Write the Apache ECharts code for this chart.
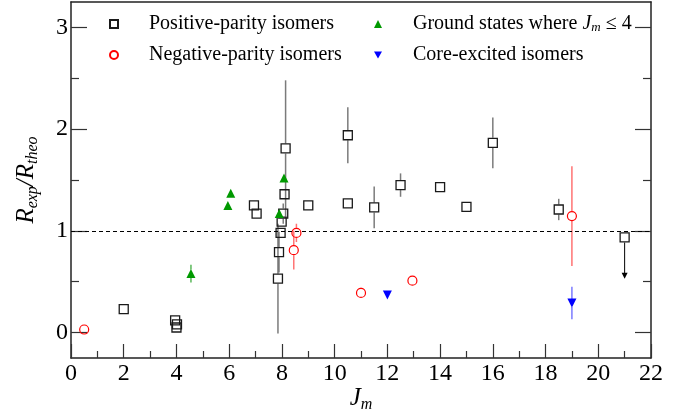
<!DOCTYPE html>
<html><head><meta charset="utf-8">
<script src="https://cdn.jsdelivr.net/npm/echarts@6/dist/echarts.min.js"></script>
<style>html,body{margin:0;padding:0;background:#fff}#c{width:692px;height:419px}</style>
</head><body><div id="c"></div>
<script>
// tick values
const xMajorTicks = [0,2,4,6,8,10,12,14,16,18,20,22];
const xMinorTicks = [1,3,5,7,9,11,13,15,17,19,21];
const yMajorTicks = [0,1,2,3];
const yMinorTicks = [0.5,1.5,2.5];

// [J_m, R_exp/R_theo, error]
const positive = [
  [2.0,0.23,0],[3.95,0.12,0],[4.02,0.08,0],[4.0,0.05,0],
  [6.94,1.25,0],[7.04,1.17,0],[7.85,0.53,0.54],[7.89,0.79,0.2],[7.95,0.98,0],
  [7.99,1.09,0],[8.05,1.17,0.1],[8.1,1.36,0],[8.14,1.81,0.67],
  [9.0,1.25,0],[10.5,1.94,0.275],[10.5,1.27,0],[11.5,1.23,0.205],[12.5,1.45,0.115],
  [14.0,1.43,0],[15.0,1.235,0],[16.0,1.865,0.25],[18.5,1.21,0.105]
];
// [J_m, value, arrow tip] upper limit
const positiveLimit = [[21.0,0.935,0.53]];
const negative = [[0.5,0.03,0],[8.45,0.81,0.19],[8.55,0.98,0.09],[11.0,0.39,0.05],[12.95,0.51,0.03],[19.0,1.145,0.49]];
const ground = [[4.55,0.58,0.087],[5.95,1.25,0],[6.06,1.37,0],[7.9,1.17,0],[8.08,1.52,0]];
const core = [[12.0,0.37,0],[19.0,0.29,0.16]];

const names = ['Positive-parity isomers','Negative-parity isomers','Ground states where J ≤ 4','Core-excited isomers'];

const FONT = 'Liberation Serif';

function errSeries(id, data, color, gap) {
  return {
    type: 'custom', name: id, silent: true, z: 1,
    xAxisIndex: 0, yAxisIndex: 0,
    data: data.filter(d => d[2] > 0),
    encode: {x: 0, y: 1},
    renderItem: function (params, api) {
      const x = api.value(0), y = api.value(1), e = api.value(2);
      const c = api.coord([x, y]);
      const t = api.coord([x, y + e]);
      const b = api.coord([x, y - e]);
      const ch = [];
      const st = {stroke: color, lineWidth: 1.5};
      if (t[1] < c[1] - gap) ch.push({type: 'line', shape: {x1: c[0], y1: t[1], x2: c[0], y2: c[1] - gap}, style: st});
      if (b[1] > c[1] + gap) ch.push({type: 'line', shape: {x1: c[0], y1: c[1] + gap, x2: c[0], y2: b[1]}, style: st});
      return {type: 'group', children: ch};
    }
  };
}

const arrowSeries = {
  type: 'custom', name: 'limit', silent: true, z: 1,
  data: positiveLimit, encode: {x: 0, y: 1},
  renderItem: function (params, api) {
    const x = api.value(0), y = api.value(1), tip = api.value(2);
    const c = api.coord([x, y]);
    const p = api.coord([x, tip]);
    return {type: 'group', children: [
      {type: 'line', shape: {x1: c[0], y1: c[1] + 5, x2: p[0], y2: p[1] - 4}, style: {stroke: '#000', lineWidth: 1}},
      {type: 'polygon', shape: {points: [[p[0] - 3, p[1] - 6], [p[0] + 3, p[1] - 6], [p[0], p[1]]]}, style: {fill: '#000'}}
    ]};
  }
};

function tickAxis(kind, pos, values, len) {
  const a = {
    type: 'value', position: pos,
    axisLine: {show: false, onZero: false},
    axisTick: {show: true, inside: true, length: len, customValues: values, lineStyle: {color: '#333', width: 1.2}},
    axisLabel: {show: false}, splitLine: {show: false}
  };
  if (kind === 'x') { a.min = 0; a.max = 22; } else { a.min = -0.25; a.max = 3.25; }
  return a;
}
function lineAxis(kind, pos) {
  const a = {
    type: 'value', position: pos,
    axisLine: {show: true, onZero: false, lineStyle: {color: '#222', width: 1.5}},
    axisTick: {show: false}, axisLabel: {show: false}, splitLine: {show: false}
  };
  if (kind === 'x') { a.min = 0; a.max = 22; } else { a.min = -0.25; a.max = 3.25; }
  return a;
}

const subRich = {
  i: {fontFamily: FONT, fontSize: 25, fontStyle: 'italic', color: '#000', lineHeight: 30, verticalAlign: 'middle'},
  s: {fontFamily: FONT, fontSize: 16, fontStyle: 'italic', color: '#000', lineHeight: 16, verticalAlign: 'bottom'}
};

const option = {
  animation: false,
  backgroundColor: '#fff',
  grid: {left: 71, right: 41, top: 2, bottom: 61, outerBoundsMode: 'none', containLabel: false},
  legend: [
    {
      data: [names[0], names[1]], orient: 'vertical', left: 109, top: 14, padding: 0,
      itemWidth: 8, itemHeight: 8, itemGap: 11, selectedMode: false,
      textStyle: {fontFamily: FONT, fontSize: 20, color: '#000', lineHeight: 20, padding: [0, 0, 0, 26]}
    },
    {
      data: [names[2], names[3]], orient: 'vertical', left: 374, top: 14, padding: 0,
      itemWidth: 8, itemHeight: 8, itemGap: 11, selectedMode: false,
      formatter: function (n) {
        if (n === names[2]) return '{t|Ground states where }{i|J}{s|m}{t| ≤ 4}';
        return '{t|' + n + '}';
      },
      textStyle: {fontFamily: FONT, fontSize: 20, color: '#000', lineHeight: 20, padding: [0, 0, 0, 26],
        rich: {
          t: {fontFamily: FONT, fontSize: 20, color: '#000', lineHeight: 20, verticalAlign: 'middle'},
          i: {fontFamily: FONT, fontSize: 20, fontStyle: 'italic', color: '#000', lineHeight: 20, verticalAlign: 'middle'},
          s: {fontFamily: FONT, fontSize: 13, fontStyle: 'italic', color: '#000', lineHeight: 12, verticalAlign: 'bottom'}
        }
      }
    }
  ],
  xAxis: [
    {
      type: 'value', min: 0, max: 22, position: 'bottom',
      name: '{i|J}{s|m}', nameLocation: 'middle', nameGap: 25, nameMoveOverlap: false,
      nameTextStyle: {rich: subRich},
      axisLine: {show: true, onZero: false, lineStyle: {color: '#222', width: 1.5}},
      axisTick: {show: false},
      axisLabel: {show: true, customValues: xMajorTicks, fontFamily: FONT, fontSize: 24, color: '#000', margin: 4},
      splitLine: {show: false}
    },
    tickAxis('x', 'bottom', xMajorTicks, 14),
    tickAxis('x', 'bottom', xMinorTicks, 7),
    lineAxis('x', 'top')
  ],
  yAxis: [
    {
      type: 'value', min: -0.25, max: 3.25, position: 'left',
      name: '{i|R}{s|exp}{i|/R}{s|theo}', nameLocation: 'middle', nameGap: 30, nameRotate: 90, nameMoveOverlap: false,
      nameTextStyle: {rich: subRich},
      axisLine: {show: true, onZero: false, lineStyle: {color: '#222', width: 1.5}},
      axisTick: {show: false},
      axisLabel: {show: true, customValues: yMajorTicks, fontFamily: FONT, fontSize: 24, color: '#000', margin: 3},
      splitLine: {show: false}
    },
    tickAxis('y', 'left', yMajorTicks, 16),
    tickAxis('y', 'left', yMinorTicks, 8),
    lineAxis('y', 'right'),
    tickAxis('y', 'right', yMajorTicks, 16),
    tickAxis('y', 'right', yMinorTicks, 8)
  ],
  series: [
    errSeries('errPos', positive, 'rgba(90,90,90,0.8)', 5),
    errSeries('errNeg', negative, 'rgba(255,90,90,0.85)', 5),
    errSeries('errGround', ground, 'rgba(60,170,60,0.85)', 4),
    errSeries('errCore', core, 'rgba(100,100,255,0.85)', 4),
    arrowSeries,
    {
      type: 'scatter', name: names[0], data: positive.map(d => [d[0], d[1]]).concat(positiveLimit.map(d => [d[0], d[1]])),
      symbol: 'rect', symbolSize: 9, z: 3,
      itemStyle: {color: 'rgba(255,255,255,0)', borderColor: '#1a1a1a', borderWidth: 1.3, opacity: 1},
      markLine: {
        silent: true, symbol: ['none', 'none'], label: {show: false},
        lineStyle: {color: '#000', width: 1, type: [4, 3]},
        data: [{yAxis: 1}]
      }
    },
    {
      type: 'scatter', name: names[1], data: negative.map(d => [d[0], d[1]]),
      symbol: 'circle', symbolSize: 9, z: 3,
      itemStyle: {color: 'rgba(255,255,255,0)', borderColor: '#ff0000', borderWidth: 1.2, opacity: 1}
    },
    {
      type: 'scatter', name: names[2], data: ground.map(d => [d[0], d[1]]),
      symbol: 'triangle', symbolSize: 9, z: 3,
      itemStyle: {color: '#009900', opacity: 1}
    },
    {
      type: 'scatter', name: names[3], data: core.map(d => [d[0], d[1]]),
      symbol: 'path://M0,0L10,0L5,9Z', symbolSize: 9, z: 3,
      itemStyle: {color: '#0000ff', opacity: 1}
    }
  ]
};

const chart = echarts.init(document.getElementById('c'), null, {renderer: 'canvas'});
chart.setOption(option);
</script>
</body></html>
